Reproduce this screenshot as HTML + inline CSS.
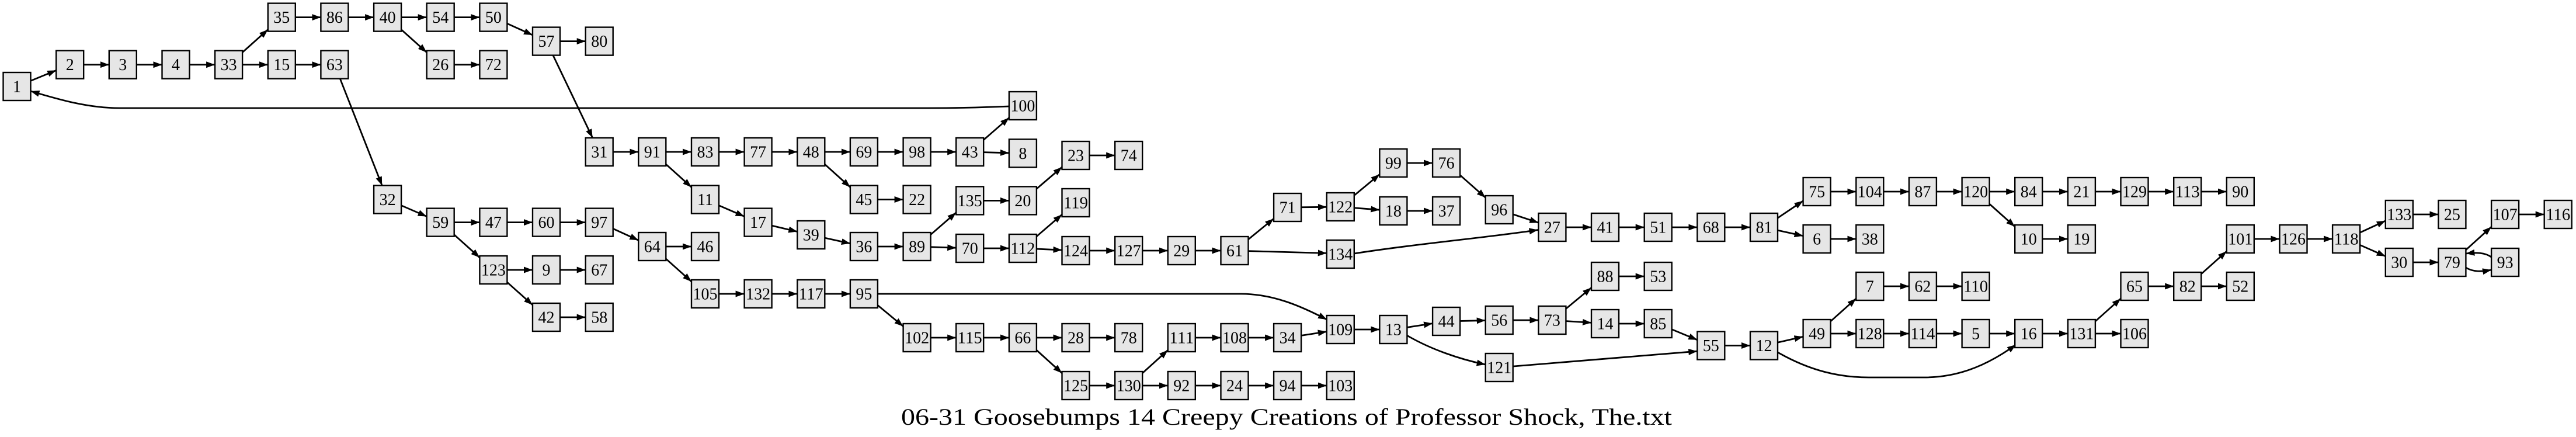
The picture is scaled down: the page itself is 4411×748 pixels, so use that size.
<!DOCTYPE html>
<html><head><meta charset="utf-8"><style>
html,body{margin:0;padding:0;background:#fff}
svg{display:block}
.n rect{fill:#e6e6e6;stroke:#000;stroke-width:2.4}
.n text{font-family:"Liberation Serif",serif;font-size:28px;text-anchor:middle;dominant-baseline:central}
.e path{fill:none;stroke:#000;stroke-width:2.8;marker-end:url(#a)}
</style></head><body>
<svg width="4411" height="748" viewBox="0 0 4411 748" xmlns="http://www.w3.org/2000/svg">
<defs><marker id="a" markerUnits="userSpaceOnUse" markerWidth="17" markerHeight="13" refX="15" refY="5.5" orient="auto"><path d="M0,0 L15,5.5 L0,11 z" fill="#000"/></marker></defs>
<g class="e">
<path d="M29,148 L96.2,120.4"/>
<path d="M143.2,110.7 L186.8,110.7"/><path d="M233.8,110.7 L277.5,110.7"/><path d="M324.5,110.7 L368.1,110.7"/>
<path d="M391.6,110.7 L458.8,50.6"/>
<path d="M415.1,110.7 L458.8,110.7"/><path d="M505.8,110.7 L549.4,110.7"/>
<path d="M505.8,29.6 L549.4,29.6"/><path d="M596.4,29.6 L640.1,29.6"/><path d="M687.1,29.6 L730.7,29.6"/><path d="M777.7,29.6 L821.4,29.6"/>
<path d="M663.6,29.6 L730.7,89.7"/>
<path d="M777.7,110.7 L821.4,110.7"/>
<path d="M844.9,29.6 L912,60"/>
<path d="M959,70.6 L1002.7,70.6"/>
<path d="M935.5,70.6 L1014.7,236"/>
<path d="M572.9,110.7 L654.2,317.5"/>
<path d="M663.6,341.5 L730.7,370.5"/>
<path d="M777.7,380.6 L821.4,380.6"/><path d="M868.4,380.6 L912,380.6"/><path d="M959,380.6 L1002.7,380.6"/>
<path d="M754.2,380.6 L821.4,440.9"/>
<path d="M868.4,462 L912,462"/><path d="M959,462 L1002.7,462"/>
<path d="M844.9,462 L912,522"/>
<path d="M959,543 L1002.7,543"/>
<path d="M1026.2,380.6 L1093.3,411.3"/>
<path d="M1140.3,422 L1184,422"/>
<path d="M1116.8,422 L1184,482"/>
<path d="M1231,503 L1274.6,503"/><path d="M1321.6,503 L1365.3,503"/><path d="M1412.3,503 L1455.9,503"/>
<path d="M1049.7,260 L1093.3,260"/><path d="M1140.3,260 L1184,260"/><path d="M1231,260 L1274.6,260"/><path d="M1321.6,260 L1365.3,260"/><path d="M1412.3,260 L1455.9,260"/><path d="M1502.9,260 L1546.6,260"/><path d="M1593.6,260 L1637.2,260"/>
<path d="M1116.8,260 L1184,320.4"/>
<path d="M1207.5,341.5 L1274.6,370.5"/>
<path d="M1298.1,380.6 L1365.3,396.5"/>
<path d="M1388.8,402 L1455.9,416.8"/>
<path d="M1502.9,422 L1546.6,422"/>
<path d="M1388.8,260 L1455.9,320.4"/>
<path d="M1502.9,341.5 L1546.6,341.5"/>
<path d="M1660.7,260 L1727.9,201.5"/>
<path d="M1660.7,260 L1727.9,261.8"/>
<path d="M1570.1,422 L1637.2,363.8"/>
<path d="M1570.1,422 L1637.2,424.2"/>
<path d="M1684.2,343.4 L1727.9,343.4"/>
<path d="M1751.4,343.4 L1818.5,286"/>
<path d="M1684.2,425 L1727.9,425"/>
<path d="M1751.4,425 L1818.5,367.2"/>
<path d="M1751.4,425 L1818.5,428"/>
<path d="M1865.5,429 L1909.2,429"/><path d="M1956.2,429 L1999.8,429"/><path d="M2046.8,429 L2090.5,429"/>
<path d="M1865.5,266 L1909.2,266"/>
<path d="M2114,429 L2181.1,374.2"/>
<path d="M2114,429 L2271.8,433.4"/>
<path d="M2204.6,355 L2271.8,354.3"/>
<path d="M2295.3,354 L2362.4,298.4"/>
<path d="M2295.3,354 L2362.4,359.2"/>
<path d="M2409.4,279 L2453.1,279"/><path d="M2409.4,361 L2453.1,361"/>
<path d="M2476.6,279 L2543.7,338.3"/>
<path d="M2567.2,359 L2634.4,381.2"/>
<path d="M2318.8,434 C2420,418 2560,405 2633.5,393.5"/>
<path d="M2681.4,389 L2725,389"/><path d="M2772,389 L2815.7,389"/><path d="M2862.7,389 L2906.3,389"/><path d="M2953.3,389 L2997,389"/>
<path d="M3020.5,389 L3087.6,343.8"/>
<path d="M3020.5,389 L3087.6,403.8"/>
<path d="M3134.6,328 L3178.3,328"/><path d="M3225.3,328 L3268.9,328"/><path d="M3315.9,328 L3359.6,328"/><path d="M3406.6,328 L3450.2,328"/><path d="M3497.2,328 L3540.9,328"/><path d="M3587.9,328 L3631.5,328"/><path d="M3678.5,328 L3722.2,328"/><path d="M3769.2,328 L3812.8,328"/>
<path d="M3134.6,409 L3178.3,409"/>
<path d="M3383.1,328 L3450.2,388"/>
<path d="M3497.2,409 L3540.9,409"/>
<path d="M1502.9,503 L2125,503 C2180,503 2228,524 2272,547"/>
<path d="M1479.4,503 L1546.6,558.6"/>
<path d="M1593.6,578 L1637.2,578"/><path d="M1684.2,578 L1727.9,578"/><path d="M1774.9,578 L1818.5,578"/><path d="M1865.5,578 L1909.2,578"/>
<path d="M1751.4,578 L1818.5,638.7"/>
<path d="M1865.5,660 L1909.2,660"/><path d="M1956.2,660 L1999.8,660"/><path d="M2046.8,660 L2090.5,660"/><path d="M2137.5,660 L2181.1,660"/><path d="M2228.1,660 L2271.8,660"/>
<path d="M1932.7,660 L1999.8,599.3"/>
<path d="M2046.8,578 L2090.5,578"/><path d="M2137.5,578 L2181.1,578"/>
<path d="M2204.6,578 L2271.8,567.6"/>
<path d="M2318.8,564 L2362.4,564"/>
<path d="M2385.9,564 L2453.1,553.6"/>
<path d="M2409,574 C2450,598 2500,615 2543.7,624"/>
<path d="M2476.6,550 L2543.7,548.5"/>
<path d="M2590.7,548 L2634.4,548"/>
<path d="M2657.9,548 L2725,492.4"/>
<path d="M2657.9,548 L2725,552.4"/>
<path d="M2772,473 L2815.7,473"/><path d="M2772,554 L2815.7,554"/>
<path d="M2839.2,554 L2906.3,581.8"/>
<path d="M2567.2,629 L2906.3,601.2"/>
<path d="M2953.3,591.5 L2997,591.5"/>
<path d="M3020.5,591.5 L3087.6,576.3"/>
<path d="M3044,603 C3100,635 3150,646 3200,646 L3295,646 C3360,646 3410,620 3452,590"/>
<path d="M3111.1,571 L3178.3,511"/>
<path d="M3134.6,571 L3178.3,571"/><path d="M3225.3,571 L3268.9,571"/><path d="M3315.9,571 L3359.6,571"/><path d="M3406.6,571 L3450.2,571"/><path d="M3497.2,571 L3540.9,571"/><path d="M3587.9,571 L3631.5,571"/>
<path d="M3225.3,490 L3268.9,490"/><path d="M3315.9,490 L3359.6,490"/>
<path d="M3564.4,571 L3631.5,511"/>
<path d="M3678.5,490 L3722.2,490"/><path d="M3769.2,490 L3812.8,490"/>
<path d="M3745.7,490 L3812.8,430"/>
<path d="M3859.8,409 L3903.5,409"/><path d="M3950.5,409 L3994.1,409"/>
<path d="M4017.6,409 L4084.8,377.9"/>
<path d="M4017.6,409 L4084.8,438.6"/>
<path d="M4131.8,367 L4175.4,367"/><path d="M4131.8,449 L4175.4,449"/>
<path d="M4198.9,449 L4266.1,388.3"/>
<path d="M4313.1,367 L4356.7,367"/>
<path d="M4266,440 C4255,432 4240,432 4222.4,434"/>
<path d="M4222.4,458 C4235,466 4250,465 4266,462"/>
<path d="M1727.9,182 C1680,184 1620,185 1589,185 L205,185 C150,185 100,170 52.5,156"/>
</g>
<g class="n">
<rect x="5.5" y="124" width="47" height="48"/><text x="29" y="149">1</text>
<rect x="96.2" y="86.7" width="47" height="48"/><text x="119.7" y="111.7">2</text>
<rect x="186.8" y="86.7" width="47" height="48"/><text x="210.3" y="111.7">3</text>
<rect x="277.5" y="86.7" width="47" height="48"/><text x="301" y="111.7">4</text>
<rect x="368.1" y="86.7" width="47" height="48"/><text x="391.6" y="111.7">33</text>
<rect x="458.8" y="5.6" width="47" height="48"/><text x="482.3" y="30.6">35</text>
<rect x="458.8" y="86.7" width="47" height="48"/><text x="482.3" y="111.7">15</text>
<rect x="549.4" y="5.6" width="47" height="48"/><text x="572.9" y="30.6">86</text>
<rect x="549.4" y="86.7" width="47" height="48"/><text x="572.9" y="111.7">63</text>
<rect x="640.1" y="5.6" width="47" height="48"/><text x="663.6" y="30.6">40</text>
<rect x="730.7" y="5.6" width="47" height="48"/><text x="754.2" y="30.6">54</text>
<rect x="730.7" y="86.7" width="47" height="48"/><text x="754.2" y="111.7">26</text>
<rect x="821.4" y="5.6" width="47" height="48"/><text x="844.9" y="30.6">50</text>
<rect x="821.4" y="86.7" width="47" height="48"/><text x="844.9" y="111.7">72</text>
<rect x="912" y="46.6" width="47" height="48"/><text x="935.5" y="71.6">57</text>
<rect x="1002.7" y="46.6" width="47" height="48"/><text x="1026.2" y="71.6">80</text>
<rect x="1002.7" y="236" width="47" height="48"/><text x="1026.2" y="261">31</text>
<rect x="640.1" y="317.5" width="47" height="48"/><text x="663.6" y="342.5">32</text>
<rect x="730.7" y="356.6" width="47" height="48"/><text x="754.2" y="381.6">59</text>
<rect x="821.4" y="356.6" width="47" height="48"/><text x="844.9" y="381.6">47</text>
<rect x="821.4" y="438" width="47" height="48"/><text x="844.9" y="463" textLength="42" lengthAdjust="spacingAndGlyphs">123</text>
<rect x="912" y="356.6" width="47" height="48"/><text x="935.5" y="381.6">60</text>
<rect x="912" y="438" width="47" height="48"/><text x="935.5" y="463">9</text>
<rect x="912" y="519" width="47" height="48"/><text x="935.5" y="544">42</text>
<rect x="1002.7" y="356.6" width="47" height="48"/><text x="1026.2" y="381.6">97</text>
<rect x="1002.7" y="438" width="47" height="48"/><text x="1026.2" y="463">67</text>
<rect x="1002.7" y="519" width="47" height="48"/><text x="1026.2" y="544">58</text>
<rect x="1093.3" y="236" width="47" height="48"/><text x="1116.8" y="261">91</text>
<rect x="1093.3" y="398" width="47" height="48"/><text x="1116.8" y="423">64</text>
<rect x="1184" y="236" width="47" height="48"/><text x="1207.5" y="261">83</text>
<rect x="1184" y="317.5" width="47" height="48"/><text x="1207.5" y="342.5">11</text>
<rect x="1184" y="398" width="47" height="48"/><text x="1207.5" y="423">46</text>
<rect x="1184" y="479" width="47" height="48"/><text x="1207.5" y="504" textLength="42" lengthAdjust="spacingAndGlyphs">105</text>
<rect x="1274.6" y="236" width="47" height="48"/><text x="1298.1" y="261">77</text>
<rect x="1274.6" y="356.6" width="47" height="48"/><text x="1298.1" y="381.6">17</text>
<rect x="1274.6" y="479" width="47" height="48"/><text x="1298.1" y="504" textLength="42" lengthAdjust="spacingAndGlyphs">132</text>
<rect x="1365.3" y="236" width="47" height="48"/><text x="1388.8" y="261">48</text>
<rect x="1365.3" y="378" width="47" height="48"/><text x="1388.8" y="403">39</text>
<rect x="1365.3" y="479" width="47" height="48"/><text x="1388.8" y="504" textLength="42" lengthAdjust="spacingAndGlyphs">117</text>
<rect x="1455.9" y="236" width="47" height="48"/><text x="1479.4" y="261">69</text>
<rect x="1455.9" y="317.5" width="47" height="48"/><text x="1479.4" y="342.5">45</text>
<rect x="1455.9" y="398" width="47" height="48"/><text x="1479.4" y="423">36</text>
<rect x="1455.9" y="479" width="47" height="48"/><text x="1479.4" y="504">95</text>
<rect x="1546.6" y="236" width="47" height="48"/><text x="1570.1" y="261">98</text>
<rect x="1546.6" y="317.5" width="47" height="48"/><text x="1570.1" y="342.5">22</text>
<rect x="1546.6" y="398" width="47" height="48"/><text x="1570.1" y="423">89</text>
<rect x="1546.6" y="554" width="47" height="48"/><text x="1570.1" y="579" textLength="42" lengthAdjust="spacingAndGlyphs">102</text>
<rect x="1637.2" y="236" width="47" height="48"/><text x="1660.7" y="261">43</text>
<rect x="1637.2" y="319.4" width="47" height="48"/><text x="1660.7" y="344.4" textLength="42" lengthAdjust="spacingAndGlyphs">135</text>
<rect x="1637.2" y="401" width="47" height="48"/><text x="1660.7" y="426">70</text>
<rect x="1637.2" y="554" width="47" height="48"/><text x="1660.7" y="579" textLength="42" lengthAdjust="spacingAndGlyphs">115</text>
<rect x="1727.9" y="157" width="47" height="48"/><text x="1751.4" y="182" textLength="42" lengthAdjust="spacingAndGlyphs">100</text>
<rect x="1727.9" y="238.4" width="47" height="48"/><text x="1751.4" y="263.4">8</text>
<rect x="1727.9" y="319.4" width="47" height="48"/><text x="1751.4" y="344.4">20</text>
<rect x="1727.9" y="401" width="47" height="48"/><text x="1751.4" y="426" textLength="42" lengthAdjust="spacingAndGlyphs">112</text>
<rect x="1727.9" y="554" width="47" height="48"/><text x="1751.4" y="579">66</text>
<rect x="1818.5" y="242" width="47" height="48"/><text x="1842" y="267">23</text>
<rect x="1818.5" y="323" width="47" height="48"/><text x="1842" y="348" textLength="42" lengthAdjust="spacingAndGlyphs">119</text>
<rect x="1818.5" y="405" width="47" height="48"/><text x="1842" y="430" textLength="42" lengthAdjust="spacingAndGlyphs">124</text>
<rect x="1818.5" y="554" width="47" height="48"/><text x="1842" y="579">28</text>
<rect x="1818.5" y="636" width="47" height="48"/><text x="1842" y="661" textLength="42" lengthAdjust="spacingAndGlyphs">125</text>
<rect x="1909.2" y="242" width="47" height="48"/><text x="1932.7" y="267">74</text>
<rect x="1909.2" y="405" width="47" height="48"/><text x="1932.7" y="430" textLength="42" lengthAdjust="spacingAndGlyphs">127</text>
<rect x="1909.2" y="554" width="47" height="48"/><text x="1932.7" y="579">78</text>
<rect x="1909.2" y="636" width="47" height="48"/><text x="1932.7" y="661" textLength="42" lengthAdjust="spacingAndGlyphs">130</text>
<rect x="1999.8" y="405" width="47" height="48"/><text x="2023.3" y="430">29</text>
<rect x="1999.8" y="554" width="47" height="48"/><text x="2023.3" y="579" textLength="42" lengthAdjust="spacingAndGlyphs">111</text>
<rect x="1999.8" y="636" width="47" height="48"/><text x="2023.3" y="661">92</text>
<rect x="2090.5" y="405" width="47" height="48"/><text x="2114" y="430">61</text>
<rect x="2090.5" y="554" width="47" height="48"/><text x="2114" y="579" textLength="42" lengthAdjust="spacingAndGlyphs">108</text>
<rect x="2090.5" y="636" width="47" height="48"/><text x="2114" y="661">24</text>
<rect x="2181.1" y="331" width="47" height="48"/><text x="2204.6" y="356">71</text>
<rect x="2181.1" y="554" width="47" height="48"/><text x="2204.6" y="579">34</text>
<rect x="2181.1" y="636" width="47" height="48"/><text x="2204.6" y="661">94</text>
<rect x="2271.8" y="330" width="47" height="48"/><text x="2295.3" y="355" textLength="42" lengthAdjust="spacingAndGlyphs">122</text>
<rect x="2271.8" y="411" width="47" height="48"/><text x="2295.3" y="436" textLength="42" lengthAdjust="spacingAndGlyphs">134</text>
<rect x="2271.8" y="540" width="47" height="48"/><text x="2295.3" y="565" textLength="42" lengthAdjust="spacingAndGlyphs">109</text>
<rect x="2271.8" y="636" width="47" height="48"/><text x="2295.3" y="661" textLength="42" lengthAdjust="spacingAndGlyphs">103</text>
<rect x="2362.4" y="255" width="47" height="48"/><text x="2385.9" y="280">99</text>
<rect x="2362.4" y="337" width="47" height="48"/><text x="2385.9" y="362">18</text>
<rect x="2362.4" y="540" width="47" height="48"/><text x="2385.9" y="565">13</text>
<rect x="2453.1" y="255" width="47" height="48"/><text x="2476.6" y="280">76</text>
<rect x="2453.1" y="337" width="47" height="48"/><text x="2476.6" y="362">37</text>
<rect x="2453.1" y="526" width="47" height="48"/><text x="2476.6" y="551">44</text>
<rect x="2543.7" y="335" width="47" height="48"/><text x="2567.2" y="360">96</text>
<rect x="2543.7" y="524" width="47" height="48"/><text x="2567.2" y="549">56</text>
<rect x="2543.7" y="605" width="47" height="48"/><text x="2567.2" y="630" textLength="42" lengthAdjust="spacingAndGlyphs">121</text>
<rect x="2634.4" y="365" width="47" height="48"/><text x="2657.9" y="390">27</text>
<rect x="2634.4" y="524" width="47" height="48"/><text x="2657.9" y="549">73</text>
<rect x="2725" y="365" width="47" height="48"/><text x="2748.5" y="390">41</text>
<rect x="2725" y="449" width="47" height="48"/><text x="2748.5" y="474">88</text>
<rect x="2725" y="530" width="47" height="48"/><text x="2748.5" y="555">14</text>
<rect x="2815.7" y="365" width="47" height="48"/><text x="2839.2" y="390">51</text>
<rect x="2815.7" y="449" width="47" height="48"/><text x="2839.2" y="474">53</text>
<rect x="2815.7" y="530" width="47" height="48"/><text x="2839.2" y="555">85</text>
<rect x="2906.3" y="365" width="47" height="48"/><text x="2929.8" y="390">68</text>
<rect x="2906.3" y="567.5" width="47" height="48"/><text x="2929.8" y="592.5">55</text>
<rect x="2997" y="365" width="47" height="48"/><text x="3020.5" y="390">81</text>
<rect x="2997" y="567.5" width="47" height="48"/><text x="3020.5" y="592.5">12</text>
<rect x="3087.6" y="304" width="47" height="48"/><text x="3111.1" y="329">75</text>
<rect x="3087.6" y="385" width="47" height="48"/><text x="3111.1" y="410">6</text>
<rect x="3087.6" y="547" width="47" height="48"/><text x="3111.1" y="572">49</text>
<rect x="3178.3" y="304" width="47" height="48"/><text x="3201.8" y="329" textLength="42" lengthAdjust="spacingAndGlyphs">104</text>
<rect x="3178.3" y="385" width="47" height="48"/><text x="3201.8" y="410">38</text>
<rect x="3178.3" y="466" width="47" height="48"/><text x="3201.8" y="491">7</text>
<rect x="3178.3" y="547" width="47" height="48"/><text x="3201.8" y="572" textLength="42" lengthAdjust="spacingAndGlyphs">128</text>
<rect x="3268.9" y="304" width="47" height="48"/><text x="3292.4" y="329">87</text>
<rect x="3268.9" y="466" width="47" height="48"/><text x="3292.4" y="491">62</text>
<rect x="3268.9" y="547" width="47" height="48"/><text x="3292.4" y="572" textLength="42" lengthAdjust="spacingAndGlyphs">114</text>
<rect x="3359.6" y="304" width="47" height="48"/><text x="3383.1" y="329" textLength="42" lengthAdjust="spacingAndGlyphs">120</text>
<rect x="3359.6" y="466" width="47" height="48"/><text x="3383.1" y="491" textLength="42" lengthAdjust="spacingAndGlyphs">110</text>
<rect x="3359.6" y="547" width="47" height="48"/><text x="3383.1" y="572">5</text>
<rect x="3450.2" y="304" width="47" height="48"/><text x="3473.7" y="329">84</text>
<rect x="3450.2" y="385" width="47" height="48"/><text x="3473.7" y="410">10</text>
<rect x="3450.2" y="547" width="47" height="48"/><text x="3473.7" y="572">16</text>
<rect x="3540.9" y="304" width="47" height="48"/><text x="3564.4" y="329">21</text>
<rect x="3540.9" y="385" width="47" height="48"/><text x="3564.4" y="410">19</text>
<rect x="3540.9" y="547" width="47" height="48"/><text x="3564.4" y="572" textLength="42" lengthAdjust="spacingAndGlyphs">131</text>
<rect x="3631.5" y="304" width="47" height="48"/><text x="3655" y="329" textLength="42" lengthAdjust="spacingAndGlyphs">129</text>
<rect x="3631.5" y="466" width="47" height="48"/><text x="3655" y="491">65</text>
<rect x="3631.5" y="547" width="47" height="48"/><text x="3655" y="572" textLength="42" lengthAdjust="spacingAndGlyphs">106</text>
<rect x="3722.2" y="304" width="47" height="48"/><text x="3745.7" y="329" textLength="42" lengthAdjust="spacingAndGlyphs">113</text>
<rect x="3722.2" y="466" width="47" height="48"/><text x="3745.7" y="491">82</text>
<rect x="3812.8" y="304" width="47" height="48"/><text x="3836.3" y="329">90</text>
<rect x="3812.8" y="385" width="47" height="48"/><text x="3836.3" y="410" textLength="42" lengthAdjust="spacingAndGlyphs">101</text>
<rect x="3812.8" y="466" width="47" height="48"/><text x="3836.3" y="491">52</text>
<rect x="3903.5" y="385" width="47" height="48"/><text x="3927" y="410" textLength="42" lengthAdjust="spacingAndGlyphs">126</text>
<rect x="3994.1" y="385" width="47" height="48"/><text x="4017.6" y="410" textLength="42" lengthAdjust="spacingAndGlyphs">118</text>
<rect x="4084.8" y="343" width="47" height="48"/><text x="4108.3" y="368" textLength="42" lengthAdjust="spacingAndGlyphs">133</text>
<rect x="4084.8" y="425" width="47" height="48"/><text x="4108.3" y="450">30</text>
<rect x="4175.4" y="343" width="47" height="48"/><text x="4198.9" y="368">25</text>
<rect x="4175.4" y="425" width="47" height="48"/><text x="4198.9" y="450">79</text>
<rect x="4266.1" y="343" width="47" height="48"/><text x="4289.6" y="368" textLength="42" lengthAdjust="spacingAndGlyphs">107</text>
<rect x="4266.1" y="425" width="47" height="48"/><text x="4289.6" y="450">93</text>
<rect x="4356.7" y="343" width="47" height="48"/><text x="4380.2" y="368" textLength="42" lengthAdjust="spacingAndGlyphs">116</text>
</g>
<text x="2203" y="727" font-family="Liberation Serif, serif" font-size="40" text-anchor="middle" textLength="1320" lengthAdjust="spacingAndGlyphs">06-31 Goosebumps 14 Creepy Creations of Professor Shock, The.txt</text>
</svg>
</body></html>
